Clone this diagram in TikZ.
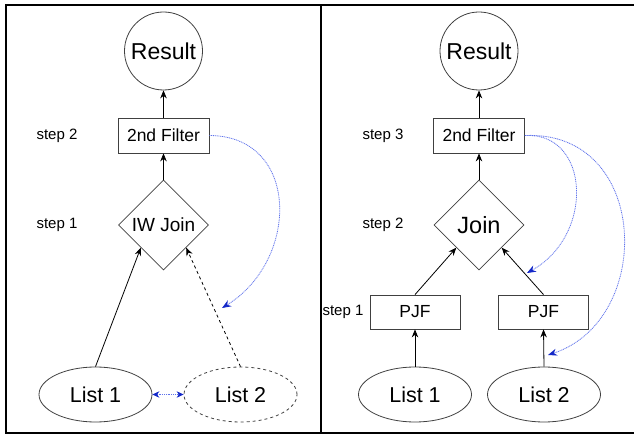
\documentclass[tikz,border=0pt]{standalone}
\usepackage{fontspec}
\setmainfont{Liberation Sans}
\usetikzlibrary{shapes.geometric,arrows.meta}
\definecolor{curveblue}{RGB}{95,115,235}
\definecolor{tipblue}{RGB}{20,40,200}
\begin{document}
\begin{tikzpicture}[x=1pt,y=-1pt,
  shp/.style={draw=black!75,line width=0.8pt,inner sep=0pt,align=center},
  circ/.style={shp,circle,minimum size=78pt,font=\fontsize{23}{23}\selectfont},
  box/.style={shp,rectangle,minimum width=91pt,minimum height=35pt,font=\fontsize{17.5}{17.5}\selectfont},
  dia/.style={shp,diamond,minimum width=90pt,minimum height=90pt,aspect=1},
  ell/.style={shp,ellipse,minimum width=113pt,minimum height=55pt,font=\fontsize{21.5}{21.5}\selectfont},
  lbl/.style={font=\fontsize{15}{15}\selectfont,inner sep=0pt},
  arr/.style={draw=black,line width=0.8pt,-{Stealth[length=8pt,width=6.5pt]}},
  fb/.style={draw=curveblue,line width=0.8pt,dash pattern=on 1pt off 0.8pt,-{Stealth[length=9pt,width=7pt,color=tipblue]}},
  fbb/.style={draw=curveblue,line width=0.8pt,dash pattern=on 1pt off 0.8pt,{Stealth[length=7pt,width=6.5pt,color=tipblue]}-{Stealth[length=7pt,width=6.5pt,color=tipblue]}},
  frame/.style={draw=black,line width=1.2pt}
]
\useasboundingbox (0,0) rectangle (634,435);
% frame
\draw[frame] (634,5) -- (6,5) -- (6,433) -- (634,433);
\draw[frame] (321,5) -- (321,433);

% ---------- left panel ----------
\node[circ] (r1) at (163.5,51) {Result};
\node[box] (f1) at (163.5,135.5) {2nd Filter};
\node[dia,font=\fontsize{19}{19}\selectfont] (j1) at (163.5,225) {IW Join};
\node[ell] (la1) at (95.5,394.5) {List 1};
\node[ell,dashed,dash pattern=on 3pt off 3pt] (la2) at (240.5,394.5) {List 2};
\node[lbl] (s12) at (57,136) {step 2};
\node[lbl] (s11) at (57,225) {step 1};
\coordinate (c1) at (222,308);

\draw[arr] (f1.north) -- (r1.south);
\draw[arr] (j1.north) -- (f1.south);
\draw[arr] (la1.north) -- (j1.south west);
\draw[arr,dash pattern=on 3pt off 3pt] (la2.north) -- (j1.south east);
\draw[fbb] (la1.east) -- (la2.west);
\draw[fb] (f1.east) .. controls (300,136) and (300,260) .. (c1);

% ---------- right panel ----------
\node[circ] (r2) at (479,51) {Result};
\node[box] (f2) at (479,135.5) {2nd Filter};
\node[dia,font=\fontsize{23.5}{23.5}\selectfont] (j2) at (479,225) {Join};
\node[box,minimum width=90pt,minimum height=34pt] (p1) at (415,312) {PJF};
\node[box,minimum width=90pt,minimum height=34pt] (p2) at (543.5,312) {PJF};
\node[ell] (lb1) at (415,394.5) {List 1};
\node[ell] (lb2) at (544,394.5) {List 2};
\node[lbl] (s23) at (383,136) {step 3};
\node[lbl] (s22) at (383,225) {step 2};
\node[lbl] (s21) at (343,312) {step 1};
\coordinate (c2) at (527,273);
\coordinate (c3) at (548,355);

\draw[arr] (f2.north) -- (r2.south);
\draw[arr] (j2.north) -- (f2.south);
\draw[arr] (p1.north) -- (j2.south west);
\draw[arr] (p2.north) -- (j2.south east);
\draw[arr] (lb1.north) -- (p1.south);
\draw[arr] (lb2.north) -- (p2.south);
\draw[fb] (f2.east) .. controls (590,132) and (595,235) .. (c2);
\draw[fb] (f2.east) .. controls (650,130) and (655,320) .. (c3);
\end{tikzpicture}
\end{document}
